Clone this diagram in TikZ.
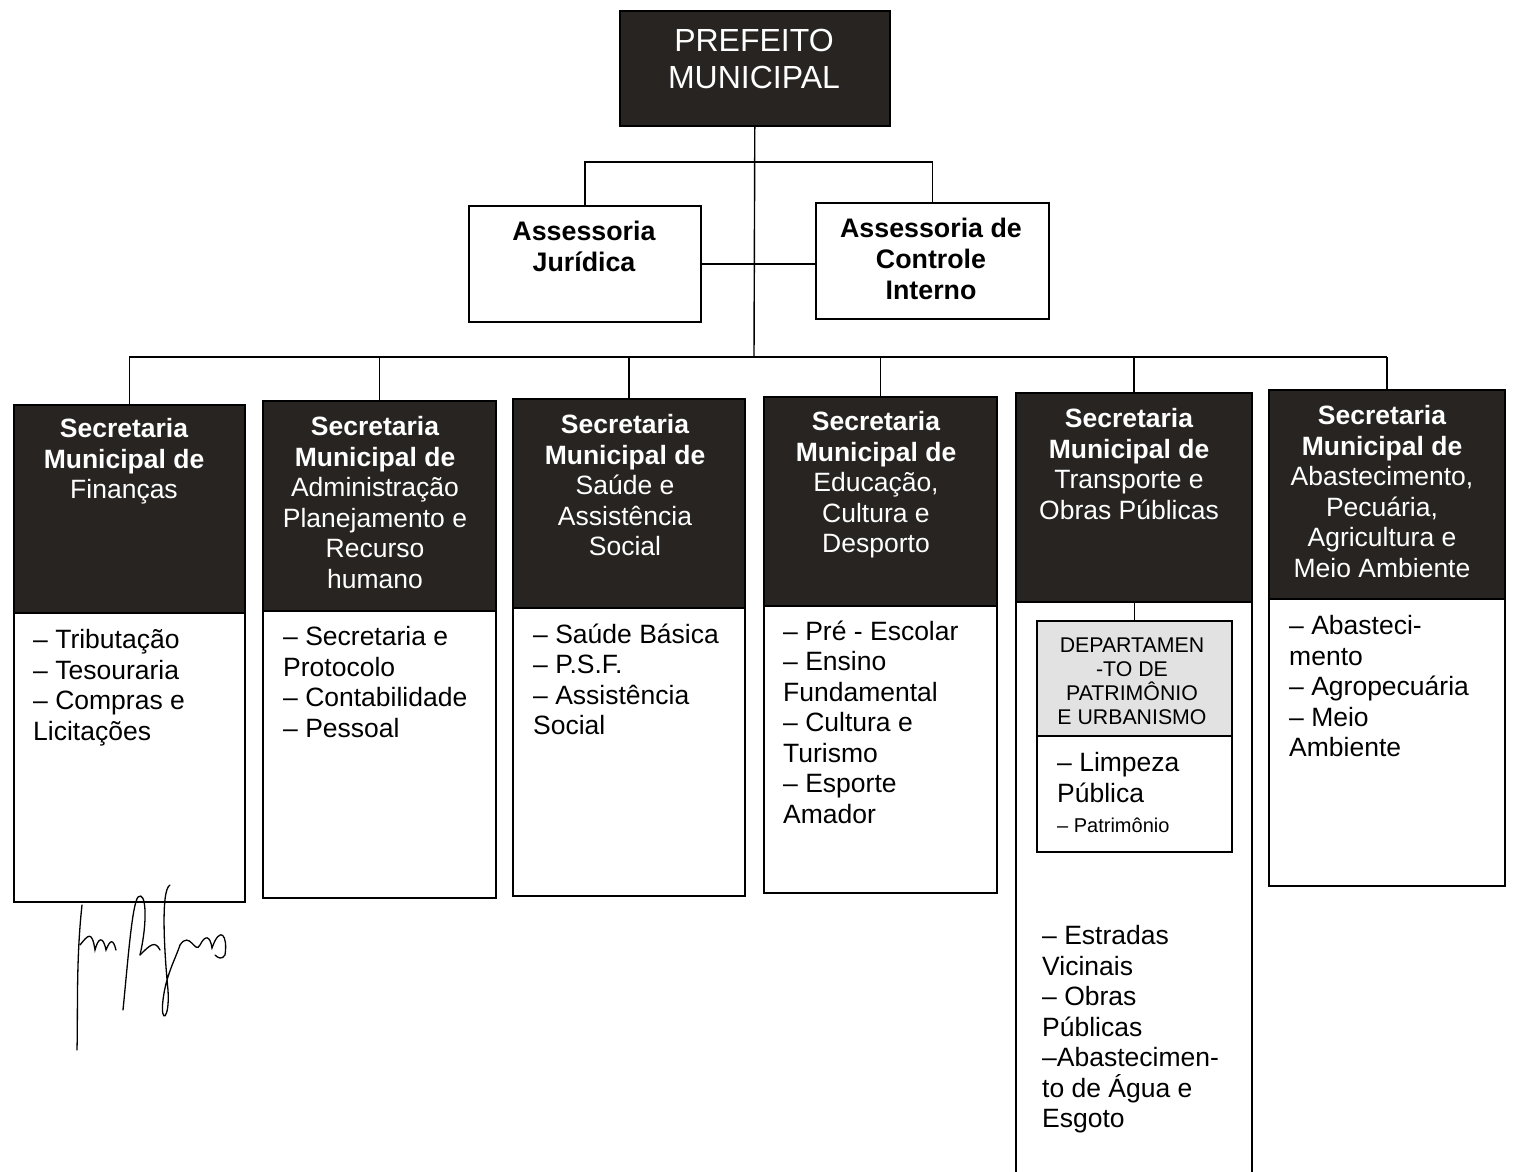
\documentclass[tikz,border=0pt]{standalone}
\usepackage{fontspec}
\setmainfont{Liberation Sans}
\definecolor{hdr}{HTML}{272421}
\definecolor{dotgrey}{HTML}{E2E2E2}
\begin{document}
\begin{tikzpicture}[x=1pt,y=-1pt,
  darkbox/.style={draw=black, line width=1.6pt, fill=hdr, inner sep=0pt, anchor=north west},
  whitebox/.style={draw=black, line width=1.6pt, fill=white, inner sep=0pt, anchor=north west},
  greybox/.style={draw=black, line width=1.6pt, fill=dotgrey, inner sep=0pt, anchor=north west},
  conn/.style={draw=black, line width=1.4pt},
  sig/.style={draw=black, line width=1.3pt, line cap=round},
  hdrtext/.style={text=white, align=center, inner sep=0pt, anchor=north, font=\fontsize{26.5}{30.5}\selectfont},
  boxtext/.style={align=center, inner sep=0pt, anchor=north, font=\fontsize{26.8}{31}\selectfont\bfseries},
  listtext/.style={align=left, inner sep=0pt, anchor=north west, font=\fontsize{26.5}{30.5}\selectfont},
  depttext/.style={align=center, inner sep=0pt, anchor=north, font=\fontsize{21.3}{24}\selectfont}
]
\fill[white] (0,0) rectangle (1516,1172);
\useasboundingbox (0,0) rectangle (1516,1172);

% Prefeito
\node[darkbox, minimum width=270pt, minimum height=115pt] (pre) at (619,10) {};
\node[text=white, align=center, inner sep=0pt, anchor=north, font=\fontsize{32}{37}\selectfont] (pret) at (754,28.5) {PREFEITO\\MUNICIPAL};

% Assessorias
\node[whitebox, minimum width=232pt, minimum height=116pt] (aj) at (468,205) {};
\node[boxtext] (ajt) at (584,220.5) {Assessoria\\Jurídica};
\node[whitebox, minimum width=233pt, minimum height=116pt] (ac) at (815,202) {};
\node[boxtext] (act) at (931,217.5) {Assessoria de\\Controle\\Interno};

% Secretarias: bodies
\node[whitebox, minimum width=231pt, minimum height=289pt] (b1) at (13,612) {};
\node[whitebox, minimum width=233pt, minimum height=287pt] (b2) at (262,610) {};
\node[whitebox, minimum width=232pt, minimum height=288pt] (b3) at (512,607) {};
\node[whitebox, minimum width=233pt, minimum height=287pt] (b4) at (763,605) {};
\node[whitebox, minimum width=236pt, minimum height=589pt] (b5) at (1015,601) {};
\node[whitebox, minimum width=236pt, minimum height=287pt] (b6) at (1268,598) {};
% headers
\node[darkbox, minimum width=231pt, minimum height=208pt] (h1) at (13,404) {};
\node[darkbox, minimum width=233pt, minimum height=210pt] (h2) at (262,400) {};
\node[darkbox, minimum width=232pt, minimum height=209pt] (h3) at (512,398) {};
\node[darkbox, minimum width=233pt, minimum height=209pt] (h4) at (763,396) {};
\node[darkbox, minimum width=236pt, minimum height=209pt] (h5) at (1015,392) {};
\node[darkbox, minimum width=236pt, minimum height=209pt] (h6) at (1268,389) {};

\node[hdrtext] (h1t) at (124,418.5) {{\bfseries Secretaria}\\{\bfseries Municipal de}\\Finanças};
\node[hdrtext] (h2t) at (375,416.5) {{\bfseries Secretaria}\\{\bfseries Municipal de}\\Administração\\Planejamento e\\Recurso\\humano};
\node[hdrtext] (h3t) at (625,414.5) {{\bfseries Secretaria}\\{\bfseries Municipal de}\\Saúde e\\Assistência\\Social};
\node[hdrtext] (h4t) at (876,411.5) {{\bfseries Secretaria}\\{\bfseries Municipal de}\\Educação,\\Cultura e\\Desporto};
\node[hdrtext] (h5t) at (1129,408.5) {{\bfseries Secretaria}\\{\bfseries Municipal de}\\Transporte e\\Obras Públicas};
\node[hdrtext] (h6t) at (1382,405.5) {{\bfseries Secretaria}\\{\bfseries Municipal de}\\Abastecimento,\\Pecuária,\\Agricultura e\\Meio Ambiente};

% lists
\node[listtext] (l1) at (33,629.5) {– Tributação\\– Tesouraria\\– Compras e\\Licitações};
\node[listtext] (l2) at (283,626.5) {– Secretaria e\\Protocolo\\– Contabilidade\\– Pessoal};
\node[listtext] (l3) at (533,623.5) {– Saúde Básica\\– P.S.F.\\– Assistência\\Social};
\node[listtext] (l4) at (783,620.5) {– Pré - Escolar\\– Ensino\\Fundamental\\– Cultura e\\Turismo\\– Esporte\\Amador};
\node[listtext] (l6) at (1289,615.5) {– Abasteci-\\mento\\– Agropecuária\\– Meio\\Ambiente};
\node[listtext] (l5) at (1042,925.5) {– Estradas\\Vicinais\\– Obras\\Públicas\\–Abastecimen-\\to de Água e\\Esgoto};

% Departamento
\node[whitebox, minimum width=195pt, minimum height=116pt] (dlow) at (1036,735) {};
\node[greybox, minimum width=195pt, minimum height=115pt] (dept) at (1036,620) {};
\node[depttext] (deptt) at (1132,637.5) {DEPARTAMEN\\-TO DE\\PATRIMÔNIO\\E URBANISMO};
\node[listtext] (dlowt) at (1057,752.5) {– Limpeza\\Pública\\{\fontsize{20}{24}\selectfont – Patrimônio}};

% connectors
\coordinate (bus) at (754,357);
\coordinate (br) at (754,162);
\draw[conn] (pre.south) -- (bus);
\draw[conn] (aj.north) |- (br) -| (ac.north);
\draw[conn] (aj.east) -- (aj.east -| ac.west);
\draw[conn] (h1.north |- bus) -- (h6.north |- bus);
\foreach \b in {h1,h2,h3,h4,h5,h6} \draw[conn] (\b.north |- bus) -- (\b.north);
\draw[conn] (dept.north) -- (dept.north |- h5.south);

% signature (hand-drawn scribble)
\draw[sig] (82,905) .. controls (76,960) and (78,1010) .. (77,1050);
\draw[sig] (80,945) .. controls (88,935) and (92,930) .. (95,950) .. controls (98,938) and (103,935) .. (106,950) .. controls (110,940) and (113,938) .. (116,950);
\draw[sig] (123,1010) .. controls (128,960) and (132,905) .. (138,897) .. controls (146,890) and (148,920) .. (140,955);
\draw[sig] (140,955) .. controls (150,945) and (155,940) .. (160,950);
\draw[sig] (170,885) .. controls (160,890) and (165,960) .. (168,990) .. controls (170,1020) and (160,1025) .. (163,1000) .. controls (166,975) and (175,960) .. (180,945);
\draw[sig] (180,945) .. controls (190,930) and (195,955) .. (200,945) .. controls (205,935) and (210,935) .. (212,948) .. controls (220,925) and (228,935) .. (225,955) .. controls (222,960) and (218,958) .. (215,955);
\end{tikzpicture}
\end{document}
